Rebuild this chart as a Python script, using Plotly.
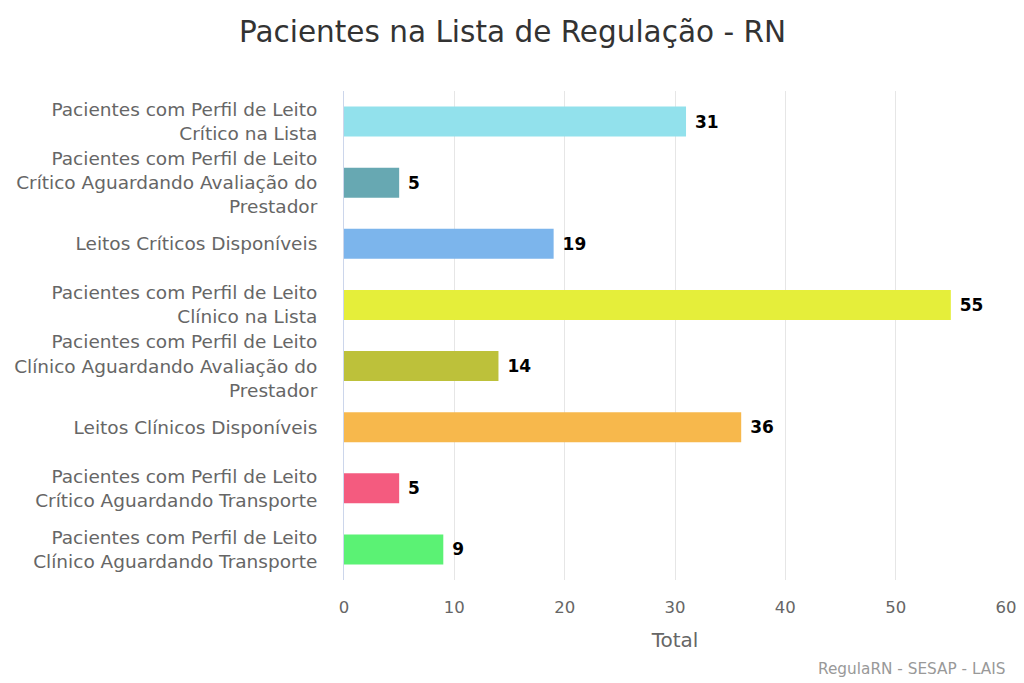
import plotly.graph_objects as go

categorias = [
    "Pacientes com Perfil de Leito<br>Crítico na Lista",
    "Pacientes com Perfil de Leito<br>Crítico Aguardando Avaliação do<br>Prestador",
    "Leitos Críticos Disponíveis",
    "Pacientes com Perfil de Leito<br>Clínico na Lista",
    "Pacientes com Perfil de Leito<br>Clínico Aguardando Avaliação do<br>Prestador",
    "Leitos Clínicos Disponíveis",
    "Pacientes com Perfil de Leito<br>Crítico Aguardando Transporte",
    "Pacientes com Perfil de Leito<br>Clínico Aguardando Transporte",
]
totais = [31, 5, 19, 55, 14, 36, 5, 9]
cores = ["#92E1EC", "#67A8B2", "#7CB5EC", "#E5EE3A", "#BDC13A",
         "#F7B84C", "#F45B7F", "#5BF274"]

fonte = "DejaVu Sans"

fig = go.Figure()

fig.add_trace(go.Bar(
    x=totais,
    y=categorias,
    orientation="h",
    marker=dict(color=cores, line=dict(width=0)),
    text=totais,
    texttemplate=" %{text}",
    textposition="outside",
    textfont=dict(family=fonte, size=17, color="#000000", weight="bold"),
    cliponaxis=False,
))

# a página tem margem de 8px no body, por isso as margens descontam isso
fig.update_layout(
    width=1024,
    height=683,
    margin=dict(l=336, r=26, t=83, b=111),
    paper_bgcolor="white",
    plot_bgcolor="white",
    bargap=0.51,
    showlegend=False,
    font=dict(family=fonte, color="#666666"),
    title=dict(
        text="Pacientes na Lista de Regulação - RN",
        x=504.5 / 1024, xanchor="center", y=1 - 24 / 683, yanchor="middle",
        font=dict(family=fonte, size=29.5, color="#333333"),
    ),
    xaxis=dict(
        range=[0, 60],
        tickvals=[0, 10, 20, 30, 40, 50, 60],
        showgrid=True,
        gridcolor="#e6e6e6",
        zeroline=False,
        automargin=False,
        tickfont=dict(size=16.5, color="#666666"),
        ticks="",
        ticklabelstandoff=15,
        title=dict(text="Total", font=dict(size=20, color="#666666"), standoff=17),
    ),
    yaxis=dict(
        autorange="reversed",
        showline=True,
        linecolor="#ccd6eb",
        linewidth=1,
        showgrid=False,
        automargin=False,
        ticks="",
        tickfont=dict(size=18.5, color="#666666"),
        ticklabelstandoff=22,
    ),
    annotations=[dict(
        text="RegulaRN - SESAP - LAIS",
        xref="paper", yref="paper",
        x=1, y=-89 / 489, xanchor="right", yanchor="middle",
        xshift=2,
        showarrow=False,
        font=dict(family=fonte, size=15.3, color="#999999"),
    )],
)

fig.write_html("out.html")
